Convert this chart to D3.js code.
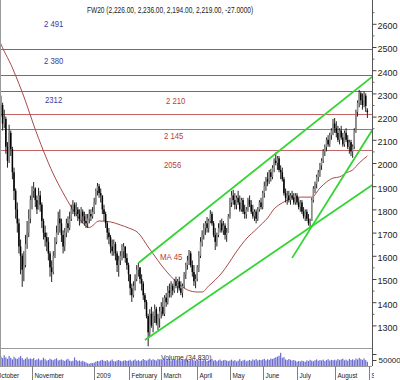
<!DOCTYPE html>
<html>
<head>
<meta charset="utf-8">
<script src="https://cdn.jsdelivr.net/npm/d3@7"></script>
<style>
  html, body { margin: 0; padding: 0; background: #fff; }
  svg { display: block; font-family: "Liberation Sans", Arial, sans-serif; }
</style>
</head>
<body>
<svg id="chart" width="400" height="380"></svg>
<script>
// FW20 daily candles, October 2008 – August 2009 (one entry per session)
const opens = [
  2330,2290,2260,2300,2230,2250,2170,2190,2070,2010,2130,2060,1960,1880,1800,1740,1640,1600,1540,1560,1650,1700,1760,
  1840,1880,1890,1840,1800,1860,1820,1750,1700,1680,1660,1610,1550,1530,1600,1660,1700,1760,1740,
  1690,1640,1700,1740,1720,1760,1800,1820,1790,1800,1780,1760,1790,1770,1750,1740,1760,1780,1770,
  1790,1830,1880,1900,1870,1860,1800,1780,1740,1700,1680,1640,1620,1650,1610,1560,1580,1600,1620,1640,1590,
  1560,1520,1460,1430,1470,1500,1540,1550,1500,1480,1430,1400,1340,1270,1350,1300,1340,1370,1310,1330,
  1360,1380,1350,1420,1400,1450,1440,1470,1450,1490,1470,1490,1460,1440,1470,1520,1560,1580,1610,1560,1530,1490,
  1500,1550,1600,1660,1690,1720,1740,1720,1750,1780,1740,1690,1660,1690,1720,1740,1710,1730,1690,1700,
  1770,1830,1860,1840,1820,1850,1830,1800,1840,1790,1780,1800,1840,1820,1790,1770,1790,1760,1800,1830,
  1810,1870,1900,1930,1920,1960,1940,1980,2010,2000,2020,1970,1960,1930,1870,1850,1860,1840,1860,1850,1830,
  1860,1830,1810,1830,1790,1770,1790,1760,1740,1750,1840,1890,1910,1940,1960,1990,2010,2050,2070,2100,2080,2120,2140,
  2170,2150,2130,2100,2140,2110,2080,2130,2100,2070,2090,2050,2070,2140,2220,2260,2300,2270,2250,2290,2226
];
const highs = [
  2340,2310,2320,2305,2290,2260,2230,2200,2090,2165,2140,2070,1980,1890,1830,1760,1670,1610,1620,1690,1750,1800,1860,
  1900,1918,1895,1860,1893,1880,1830,1760,1730,1700,1680,1620,1580,1620,1680,1730,1790,1800,1760,
  1710,1720,1760,1770,1790,1820,1840,1830,1830,1810,1800,1810,1800,1790,1780,1780,1800,1800,1810,
  1850,1890,1914,1910,1890,1860,1820,1790,1750,1720,1690,1670,1670,1660,1620,1600,1620,1650,1655,1640,1610,
  1570,1520,1480,1490,1520,1560,1569,1550,1520,1490,1440,1410,1350,1370,1380,1360,1390,1380,1350,1380,
  1400,1420,1430,1440,1470,1480,1490,1480,1500,1510,1500,1510,1490,1480,1530,1570,1600,1625,1620,1580,1560,1520,
  1560,1620,1680,1710,1740,1750,1767,1760,1797,1790,1750,1720,1700,1740,1754,1760,1750,1740,1720,1780,
  1850,1880,1884,1870,1860,1880,1860,1850,1850,1820,1810,1850,1860,1840,1820,1800,1800,1810,1840,1850,
  1880,1920,1940,1960,1970,1975,1990,2020,2045,2030,2030,1990,1980,1940,1890,1880,1880,1870,1880,1870,1870,
  1870,1850,1840,1840,1810,1800,1800,1780,1760,1850,1900,1920,1950,1970,2000,2020,2060,2080,2110,2120,2130,2150,2190,
  2194,2180,2160,2150,2160,2130,2140,2150,2120,2100,2100,2080,2150,2230,2270,2315,2310,2300,2310,2300,2236
];
const lows = [
  2270,2240,2250,2210,2200,2140,2150,2040,1980,2000,2030,1930,1840,1760,1700,1610,1520,1466,1490,1550,1630,1680,1740,
  1800,1850,1810,1780,1800,1790,1720,1670,1640,1620,1580,1510,1487,1520,1590,1650,1690,1700,1660,
  1610,1620,1680,1700,1710,1750,1780,1770,1770,1750,1730,1740,1740,1730,1720,1720,1740,1750,1760,
  1780,1820,1860,1850,1830,1780,1750,1720,1670,1650,1610,1600,1600,1580,1530,1510,1560,1580,1590,1570,1540,
  1490,1430,1401,1420,1450,1490,1510,1480,1450,1410,1370,1330,1210,1250,1290,1270,1310,1300,1280,1290,
  1330,1340,1340,1380,1390,1420,1420,1430,1440,1460,1440,1450,1430,1420,1460,1500,1540,1560,1550,1510,1470,1460,
  1490,1530,1590,1640,1670,1690,1700,1700,1740,1730,1680,1625,1640,1680,1700,1700,1690,1670,1660,1700,
  1760,1810,1820,1800,1800,1820,1790,1790,1780,1760,1760,1790,1810,1780,1760,1750,1740,1750,1790,1800,
  1800,1850,1880,1900,1910,1920,1930,1960,1990,1970,1960,1930,1920,1860,1830,1820,1830,1820,1840,1820,1820,
  1820,1800,1790,1780,1760,1750,1750,1730,1715,1750,1830,1870,1890,1920,1940,1970,2000,2030,2050,2070,2070,2100,2120,
  2130,2110,2090,2080,2100,2070,2070,2090,2060,2040,2030,2022,2060,2130,2200,2240,2250,2230,2240,2220,2194
];
const closes = [
  2290,2260,2300,2230,2250,2170,2190,2070,2010,2130,2060,1960,1880,1800,1740,1640,1600,1540,1560,1650,1700,1760,1840,
  1880,1890,1840,1800,1860,1820,1750,1700,1680,1660,1610,1550,1530,1600,1660,1700,1760,1740,1690,
  1640,1700,1740,1720,1760,1800,1820,1790,1800,1780,1760,1790,1770,1750,1740,1760,1780,1770,1790,
  1830,1880,1900,1870,1860,1800,1780,1740,1700,1680,1640,1620,1650,1610,1560,1580,1600,1620,1640,1590,1560,
  1520,1460,1430,1470,1500,1540,1550,1500,1480,1430,1400,1340,1270,1350,1300,1340,1370,1310,1330,1360,
  1380,1350,1420,1400,1450,1440,1470,1450,1490,1470,1490,1460,1440,1470,1520,1560,1580,1610,1560,1530,1490,1500,
  1550,1600,1660,1690,1720,1740,1720,1750,1780,1740,1690,1660,1690,1720,1740,1710,1730,1690,1700,1770,
  1830,1860,1840,1820,1850,1830,1800,1840,1790,1780,1800,1840,1820,1790,1770,1790,1760,1800,1830,1810,
  1870,1900,1930,1920,1960,1940,1980,2010,2000,2020,1970,1960,1930,1870,1850,1860,1840,1860,1850,1830,1860,
  1830,1810,1830,1790,1770,1790,1760,1740,1750,1840,1890,1910,1940,1960,1990,2010,2050,2070,2100,2080,2120,2140,2170,
  2150,2130,2100,2140,2110,2080,2130,2100,2070,2090,2050,2070,2140,2220,2260,2300,2270,2250,2290,2246,2219
];
const volumes = [
  62000,70000,58000,75000,80000,66000,90000,72000,60000,84000,68000,55000,77000,64000,59000,71000,83000,66000,52000,61000,73000,57000,63000,
  58000,66000,49000,54000,62000,47000,52000,69000,56000,45000,50000,61000,53000,48000,57000,64000,46000,51000,55000,
  48000,42000,53000,60000,45000,39000,44000,71000,50000,41000,46000,38000,43000,35000,30000,22000,18000,26000,24000,
  28000,36000,42000,39000,47000,52000,44000,40000,49000,37000,45000,54000,41000,38000,46000,50000,43000,39000,44000,48000,42000,
  45000,52000,40000,47000,55000,43000,49000,41000,46000,58000,50000,44000,53000,61000,48000,56000,51000,45000,59000,54000,
  57000,50000,62000,48000,55000,60000,46000,52000,58000,49000,54000,63000,47000,51000,56000,61000,53000,45000,50000,58000,48000,44000,
  52000,47000,60000,43000,49000,55000,41000,46000,53000,58000,44000,50000,39000,47000,54000,42000,48000,51000,45000,40000,
  46000,53000,42000,49000,38000,44000,57000,41000,47000,52000,39000,45000,50000,43000,55000,48000,58000,46000,52000,49000,
  54000,60000,47000,56000,51000,62000,58000,66000,72000,78000,85000,110000,68000,74000,55000,49000,58000,52000,46000,50000,44000,
  36000,42000,38000,45000,40000,35000,47000,41000,52000,44000,39000,48000,55000,43000,50000,46000,53000,41000,49000,57000,45000,51000,48000,
  52000,46000,58000,49000,55000,61000,47000,53000,44000,59000,50000,56000,48000,62000,54000,68000,57000,51000,63000,49000,34830
];

// 45-session moving average, sampled by session index
const maDays   = [0,3,11,19,24,30,36,42,47,52,58,64,71,77,82,88,94,98,102,106,110,115,118,124,127,131,135,139,143,147,151,155,159,164,167,171,176,181,187,194,199,203,207,211,215,219,223,228];
const maValues = [2590,2530,2410,2267,2164,2052,1953,1871,1810,1759,1722,1750,1746,1733,1720,1698,1638,1599,1560,1526,1496,1466,1453,1444,1444,1470,1496,1526,1565,1608,1647,1681,1707,1741,1763,1802,1828,1845,1853,1853,1892,1918,1935,1940,1957,1970,2000,2030];

// month boundaries (session index) and their axis labels
const monthStarts = [0, 23, 61, 82, 102, 124, 144, 164, 185, 208, 229];
const monthLabels = ["October", "November", "2009", "February", "March", "April", "May", "June", "July", "August", "September"];

// horizontal resistance / support levels
const blueLevels = [2491, 2380, 2312];
const redLevels  = [2210, 2145, 2056];

// trend lines: [startDay, startPrice, endDay, endPrice]
const trendLines = [
  [88, 1569, 231, 2372],
  [92, 1237, 231, 1905],
  [182, 1591, 231, 2142]
];

const priceTicks = [1300,1400,1500,1600,1700,1800,1900,2000,2100,2200,2300,2400,2500,2600];
const titleText = "FW20 (2,226.00, 2,236.00, 2,194.00, 2,219.00, -27.0000)";

// ---------------------------------------------------------------
const svg = d3.select("#chart");
const plotRight = 372, priceBottom = 348, volBottom = 366;

const x = d3.scaleLinear().domain([0, 229]).range([-5.6, 369]);
const y = d3.scaleLinear().domain([1202.5, 2702.6]).range([priceBottom, 0]);
const yv = d3.scaleLinear().domain([0, 150000]).range([volBottom, priceBottom]);

svg.append("rect").attr("width", 400).attr("height", 380).attr("fill", "#fff");

const defs = svg.append("defs");
defs.append("clipPath").attr("id", "priceClip")
  .append("rect").attr("x", 0).attr("y", 0).attr("width", plotRight).attr("height", priceBottom);
defs.append("clipPath").attr("id", "volClip")
  .append("rect").attr("x", 0).attr("y", priceBottom).attr("width", plotRight).attr("height", volBottom - priceBottom);
defs.append("clipPath").attr("id", "labelClip")
  .append("rect").attr("x", 0).attr("y", volBottom).attr("width", plotRight + 2).attr("height", 380 - volBottom);

const price = svg.append("g").attr("clip-path", "url(#priceClip)");

// level lines
price.selectAll("line.blue").data(blueLevels).join("line")
  .attr("x1", 0).attr("x2", plotRight)
  .attr("y1", d => Math.round(y(d)) + 0.5).attr("y2", d => Math.round(y(d)) + 0.5)
  .attr("stroke", "#6464c8").attr("stroke-width", 1);
price.selectAll("line.red").data(redLevels).join("line")
  .attr("x1", 0).attr("x2", plotRight)
  .attr("y1", d => Math.round(y(d)) + 0.5).attr("y2", d => Math.round(y(d)) + 0.5)
  .attr("stroke", "#c46464").attr("stroke-width", 1);

// moving average
const maPts = maDays.map((d, i) => [d, maValues[i]]);
price.append("path")
  .attr("d", d3.line().x(d => x(d[0])).y(d => y(d[1])).curve(d3.curveMonotoneX)(maPts))
  .attr("fill", "none").attr("stroke", "#a84a4a").attr("stroke-width", 1);

// candles
const idx = d3.range(closes.length);
const bodyW = 1.5;
price.append("g").selectAll("line").data(idx).join("line")
  .attr("x1", i => x(i)).attr("x2", i => x(i))
  .attr("y1", i => y(highs[i])).attr("y2", i => y(lows[i]))
  .attr("stroke", "#222").attr("stroke-width", 1);
price.append("g").selectAll("rect").data(idx).join("rect")
  .attr("x", i => x(i) - bodyW / 2)
  .attr("width", bodyW)
  .attr("y", i => y(Math.max(opens[i], closes[i])))
  .attr("height", i => Math.max(1, Math.abs(y(opens[i]) - y(closes[i]))))
  .attr("fill", i => closes[i] < opens[i] ? "#000" : "#8c8c8c");

// trend lines
price.selectAll("line.trend").data(trendLines).join("line")
  .attr("x1", d => x(d[0])).attr("y1", d => y(d[1]))
  .attr("x2", d => x(d[2])).attr("y2", d => y(d[3]))
  .attr("stroke", "#33d433").attr("stroke-width", 1.8);

// volume bars
svg.append("g").attr("clip-path", "url(#volClip)")
  .selectAll("rect").data(idx).join("rect")
  .attr("x", i => x(i) - 0.6).attr("width", 1.2)
  .attr("y", i => yv(volumes[i])).attr("height", i => volBottom - yv(volumes[i]))
  .attr("fill", "#6a6ad2");

// frame
const frame = svg.append("g").attr("stroke", "#9a9a9a").attr("stroke-width", 1);
frame.append("line").attr("x1", 0).attr("x2", plotRight).attr("y1", priceBottom + 0.5).attr("y2", priceBottom + 0.5);
frame.append("line").attr("x1", 0).attr("x2", plotRight).attr("y1", volBottom + 0.5).attr("y2", volBottom + 0.5);
frame.append("line").attr("x1", 0.5).attr("x2", 0.5).attr("y1", 0).attr("y2", volBottom);
svg.append("line").attr("x1", plotRight + 0.5).attr("x2", plotRight + 0.5).attr("y1", 0).attr("y2", volBottom)
  .attr("stroke", "#555");

// price axis
const yAxis = svg.append("g").attr("transform", `translate(${plotRight + 0.5},0)`)
  .call(d3.axisRight(y).tickValues(priceTicks).tickSize(4).tickPadding(1).tickFormat(d3.format("d")));
yAxis.select(".domain").remove();
yAxis.selectAll("line").attr("stroke", "#444");
yAxis.selectAll("text").attr("font-size", 9).attr("fill", "#222").attr("dy", "0.55em")
  .attr("font-family", "'Liberation Sans', Arial, sans-serif");
svg.append("g").attr("transform", `translate(${plotRight + 0.5},0)`)
  .call(d3.axisRight(y).tickValues(priceTicks.map(v => v + 50)).tickSize(2).tickFormat(""))
  .call(g => g.select(".domain").remove())
  .selectAll("line").attr("stroke", "#666");

// volume axis
const vAxis = svg.append("g").attr("transform", `translate(${plotRight + 0.5},0)`)
  .call(d3.axisRight(yv).tickValues([50000, 100000]).tickSize(4).tickPadding(2)
    .tickFormat(d => d === 50000 ? "50000" : ""));
vAxis.select(".domain").remove();
vAxis.selectAll("line").attr("stroke", "#444");
vAxis.selectAll("text").attr("font-size", 8).attr("fill", "#222")
  .attr("font-family", "'Liberation Sans', Arial, sans-serif");

// month ticks and labels
const months = svg.append("g");
months.selectAll("line").data(monthStarts).join("line")
  .attr("x1", d => Math.round(x(d)) + 0.5).attr("x2", d => Math.round(x(d)) + 0.5)
  .attr("y1", volBottom).attr("y2", 380)
  .attr("stroke", "#808080");
months.append("g").attr("clip-path", "url(#labelClip)")
  .selectAll("text").data(monthStarts).join("text")
  .attr("transform", d => `translate(${Math.round(x(d)) + 2.5},378) scale(0.8,1)`)
  .attr("font-size", 8).attr("fill", "#222")
  .text((d, i) => monthLabels[i]);

// title
svg.append("text").attr("transform", "translate(87,13) scale(0.73,1)")
  .attr("font-size", 9).attr("fill", "#222").text(titleText);

// level annotations (placed beside their lines)
const blueLabelPos = [[44, -22], [44, -11], [45, 12]];
const redLabelPos  = [[166, -10], [164, 10], [164, 18]];
const fmtLevel = v => v >= 2100 && v % 1 === 0 && v !== 2312 ? String(v).replace(/^(\d)(\d{3})$/, "$1 $2") : String(v);
svg.selectAll("text.bl").data(blueLevels).join("text")
  .attr("transform", (d, i) => `translate(${blueLabelPos[i][0]},${y(d) + blueLabelPos[i][1]}) scale(0.86,1)`)
  .attr("font-size", 9).attr("fill", "#3c3ca0").text(fmtLevel);
svg.selectAll("text.rl").data(redLevels).join("text")
  .attr("transform", (d, i) => `translate(${redLabelPos[i][0]},${y(d) + redLabelPos[i][1]}) scale(0.86,1)`)
  .attr("font-size", 9).attr("fill", "#b83c3c").text(fmtLevel);

// indicator captions
svg.append("text").attr("transform", "translate(160,260) scale(0.88,1)")
  .attr("font-size", 9).attr("fill", "#b04040").text("MA 45");
svg.append("text").attr("transform", "translate(161,360) scale(0.86,1)")
  .attr("font-size", 8).attr("fill", "#333")
  .text(`Volume (${d3.format(",")(volumes[volumes.length - 1])})`);
</script>
</body>
</html>
